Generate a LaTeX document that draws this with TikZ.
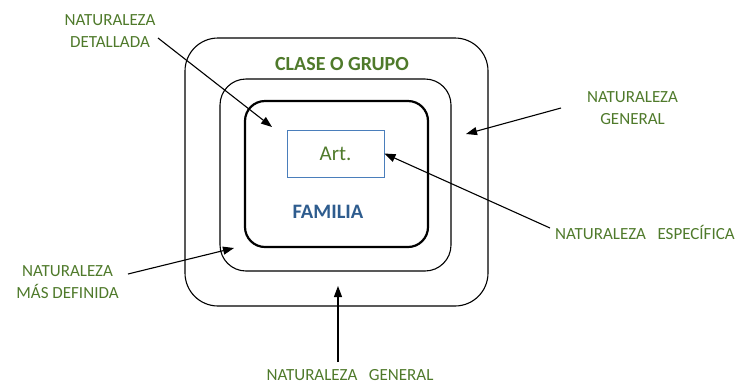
\documentclass[tikz,border=0pt]{standalone}
\usepackage{fontspec}
\setmainfont{Carlito}
\usetikzlibrary{arrows.meta}
\definecolor{leaf}{HTML}{4F7A2B}
\definecolor{navy}{HTML}{2E5C8E}
\definecolor{frame}{HTML}{4A7EBB}
\begin{document}
\begin{tikzpicture}[x=1pt,y=-1pt,
  ring/.style={draw=black,line width=1.1pt},
  lbl/.style={text=leaf,font=\fontsize{17}{22.5}\selectfont,align=center,inner sep=0pt},
  pointer/.style={draw=black,line width=1.1pt,-{Triangle[length=11pt,width=8pt]}}]
\useasboundingbox (0,0) rectangle (741,384);
% nested rounded boxes
\draw[ring,rounded corners=33pt] (185,38) rectangle (488,306);
\draw[ring,rounded corners=26pt] (220,79) rectangle (451,271);
\draw[ring,line width=2.2pt,rounded corners=20pt] (245,101) rectangle (428,247);
\node[draw=frame,line width=0.9pt,minimum width=97pt,minimum height=47pt,inner sep=0pt,
      text=leaf,font=\fontsize{21}{24}\selectfont] (art) at (335.5,153.5) {Art.};
\node[text=leaf,font=\bfseries\fontsize{20}{22}\selectfont] (clase) at (342,64) {CLASE O GRUPO};
\node[text=navy,font=\bfseries\fontsize{20.5}{22}\selectfont] (familia) at (328,212) {FAMILIA};
% labels
\node[lbl] (detallada) at (110,31) {NATURALEZA\\DETALLADA};
\node[lbl] (generalR) at (632.5,108) {NATURALEZA\\GENERAL};
\node[lbl,anchor=west] (especifica) at (555,232.5) {NATURALEZA\ \ \ ESPECÍFICA};
\node[lbl] (definida) at (67.5,282) {NATURALEZA\\MÁS DEFINIDA};
\node[lbl] (generalB) at (350,375.5) {NATURALEZA\ \ \ GENERAL};
% free ends of the pointers
\coordinate (d0) at (158,38);   \coordinate (d1) at (272,127);
\coordinate (g0) at (561,108);  \coordinate (g1) at (466,134);
\coordinate (e0) at (550,228);
\coordinate (m0) at (128,274);  \coordinate (m1) at (234,248);
\coordinate (b0) at (338,362);  \coordinate (b1) at (338,286);
\draw[pointer] (d0) -- (d1);
\draw[pointer] (g0) -- (g1);
\draw[pointer] (e0) -- (art.east);
\draw[pointer] (m0) -- (m1);
\draw[pointer] (b0) -- (b1);
\end{tikzpicture}
\end{document}
